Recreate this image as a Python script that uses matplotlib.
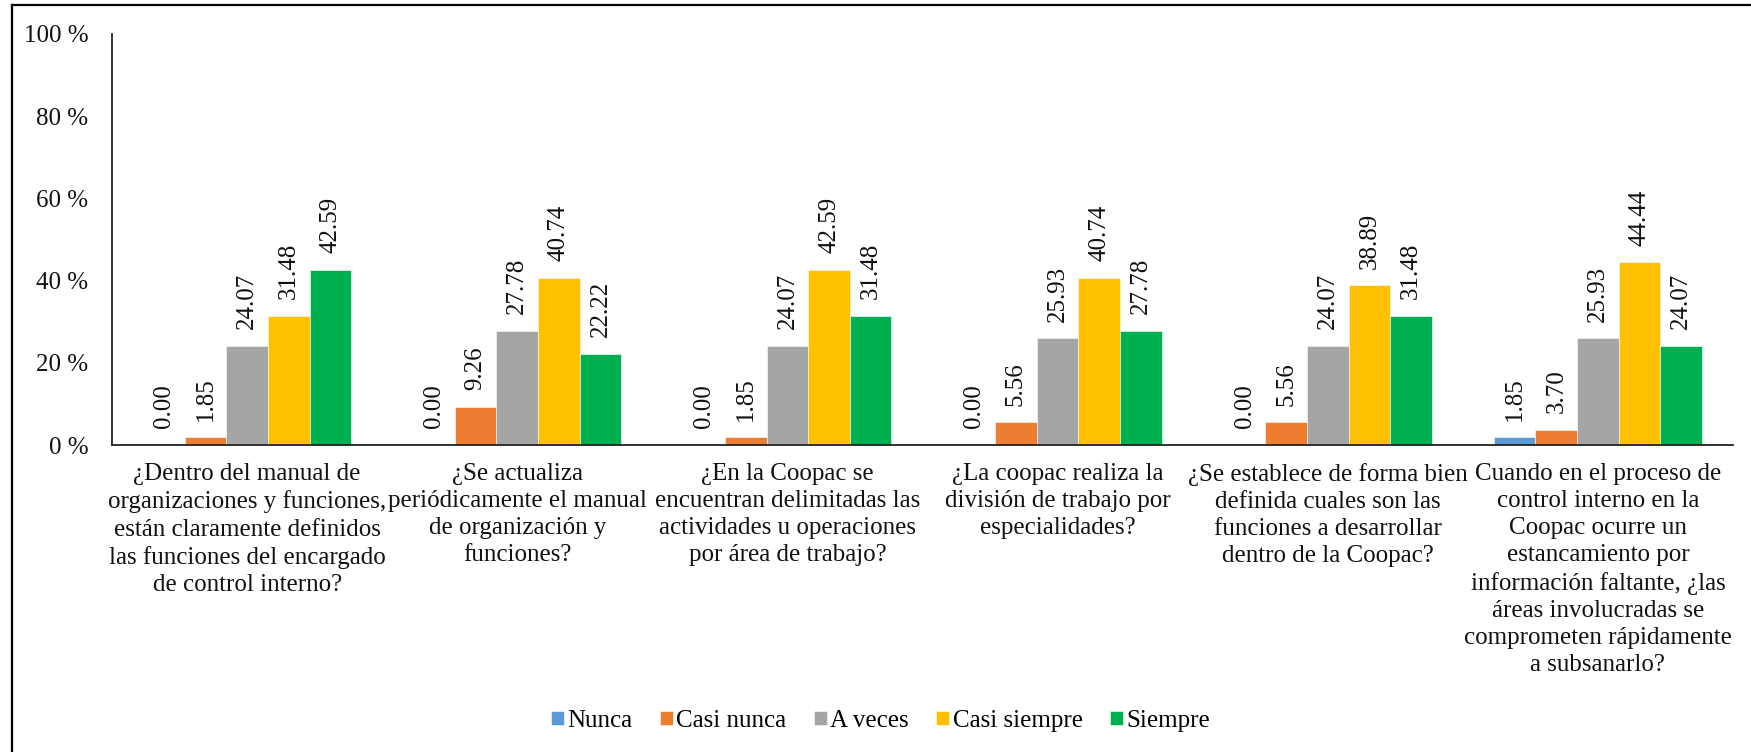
import matplotlib
matplotlib.use("Agg")
from matplotlib import pyplot as plt
from matplotlib.lines import Line2D
import numpy as np

plt.rcParams['font.family'] = ['Liberation Serif', 'DejaVu Serif']

categories = [
    "¿Dentro del manual de\norganizaciones y funciones,\nestán claramente definidos\nlas funciones del encargado\nde control interno?",
    "¿Se actualiza\nperiódicamente el manual\nde organización y\nfunciones?",
    "¿En la Coopac se\nencuentran delimitadas las\nactividades u operaciones\npor área de trabajo?",
    "¿La coopac realiza la\ndivisión de trabajo por\nespecialidades?",
    "¿Se establece de forma bien\ndefinida cuales son las\nfunciones a desarrollar\ndentro de la Coopac?",
    "Cuando en el proceso de\ncontrol interno en la\nCoopac ocurre un\nestancamiento por\ninformación faltante, ¿las\náreas involucradas se\ncomprometen rápidamente\na subsanarlo?",
]

series_names = ["Nunca", "Casi nunca", "A veces", "Casi siempre", "Siempre"]
nunca = [0.00, 0.00, 0.00, 0.00, 0.00, 1.85]
casi_nunca = [1.85, 9.26, 1.85, 5.56, 5.56, 3.70]
a_veces = [24.07, 27.78, 24.07, 25.93, 24.07, 25.93]
casi_siempre = [31.48, 40.74, 42.59, 40.74, 38.89, 44.44]
siempre = [42.59, 22.22, 31.48, 27.78, 31.48, 24.07]

colors = ["#5B9BD5", "#ED7D31", "#A5A5A5", "#FFC000", "#00B050"]

fig = plt.figure(figsize=(17.51, 7.52), dpi=100)
ax = fig.add_axes([0.064, 0.4082, 0.9257, 0.5466])

x = np.arange(len(categories))
width = 0.154
all_series = [nunca, casi_nunca, a_veces, casi_siempre, siempre]

for i, (name, vals) in enumerate(zip(series_names, all_series)):
    offs = (i - 2) * width
    ax.bar(x + offs, vals, width, color=colors[i], label=name,
           edgecolor="white", linewidth=0.4)
    for xi, v in zip(x, vals):
        ax.annotate(f"{v:.2f}", (xi + offs, v), xytext=(0, 12),
                    textcoords="offset points", rotation=90,
                    ha="center", va="bottom", fontsize=18, color="#111111")

ax.set_xlim(-0.5, len(categories) - 0.5)
ax.set_ylim(0, 100)
ax.set_yticks([0, 20, 40, 60, 80, 100])
ax.set_yticklabels([f"{t} %" for t in [0, 20, 40, 60, 80, 100]], fontsize=18)
ax.set_xticks(x)
ax.set_xticklabels(categories, fontsize=18, linespacing=1.3)
ax.tick_params(axis="both", length=0, colors="#111111")
ax.tick_params(axis="x", pad=13)
ax.tick_params(axis="y", pad=17)

for side in ["top", "right"]:
    ax.spines[side].set_visible(False)
ax.spines["left"].set_color("#222222")
ax.spines["bottom"].set_color("#222222")
ax.spines["left"].set_linewidth(1.3)
ax.spines["bottom"].set_linewidth(1.3)

fig.legend(loc="center", bbox_to_anchor=(0.503, 0.041), ncol=5, frameon=False,
           fontsize=18, handlelength=0.5, handleheight=0.5,
           handletextpad=0.15, columnspacing=1.1)

# outer frame (only top and left edges are visible in the crop)
fig.add_artist(Line2D([0.0069, 1.0], [0.9934, 0.9934], transform=fig.transFigure,
                      color="black", linewidth=1.6))
fig.add_artist(Line2D([0.0069, 0.0069], [0.0, 0.9934], transform=fig.transFigure,
                      color="black", linewidth=1.6))

fig.savefig("out.png", dpi=100)
